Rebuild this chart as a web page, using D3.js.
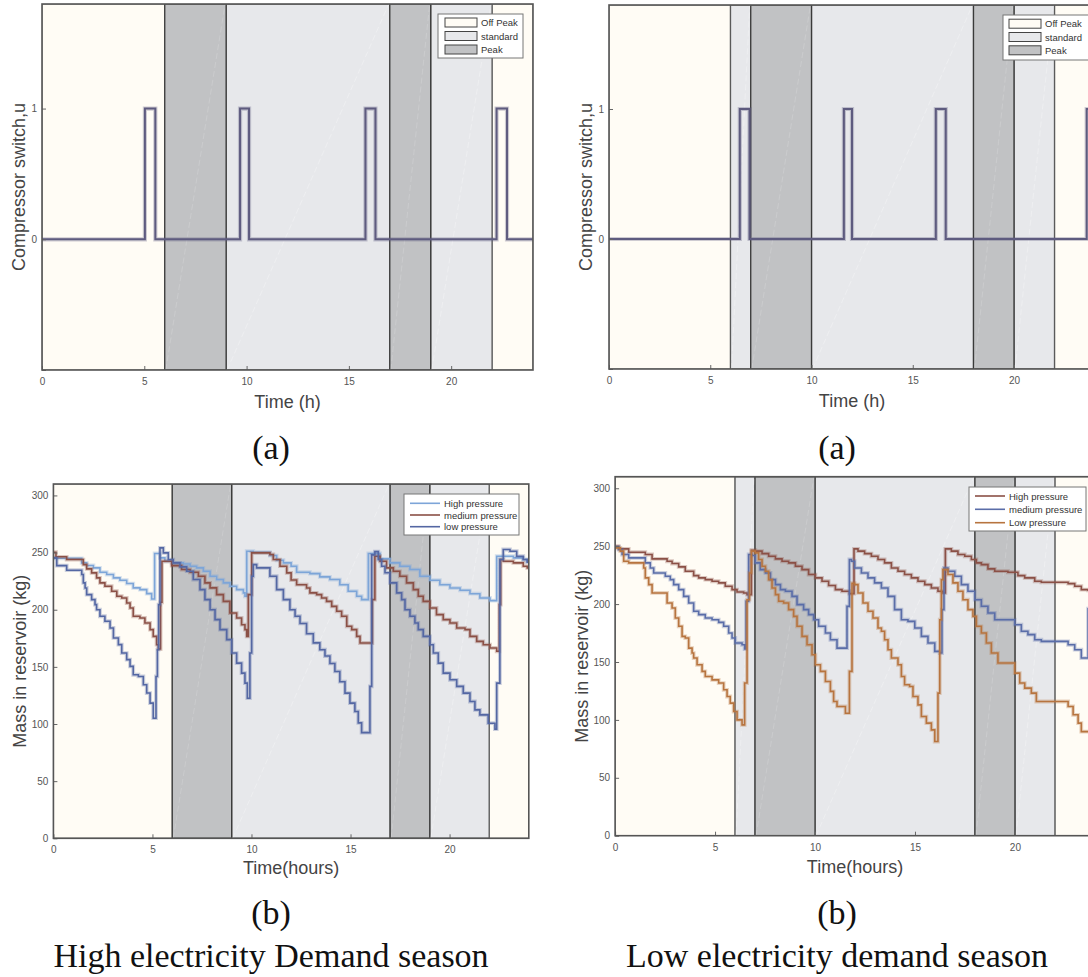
<!DOCTYPE html>
<html><head><meta charset="utf-8">
<script src="https://cdn.jsdelivr.net/npm/d3@7/dist/d3.min.js"></script>
<style>html,body{margin:0;padding:0;background:#fff;overflow:hidden}svg{display:block}</style>
</head><body>
<script>
// ---------------- DATA ----------------
const hoursTicks = [0, 5, 10, 15, 20];
const switchTicks = [-1, 0, 1];
const switchTickLabels = ["", "0", "1"];
const massTicks = [0, 50, 100, 150, 200, 250, 300];
const tariffNames = ["Off Peak", "standard", "Peak"];

const highSeasonPeriods = [[0,6,"Off Peak"],[6,9,"Peak"],[9,17,"standard"],[17,19,"Peak"],[19,22,"standard"],[22,24,"Off Peak"]];
const lowSeasonPeriods  = [[0,6,"Off Peak"],[6,7,"standard"],[7,10,"Peak"],[10,18,"standard"],[18,20,"Peak"],[20,22,"standard"],[22,24,"Off Peak"]];

const highSeasonSwitch = [[0,0],[5.03,1],[5.54,0],[9.68,1],[10.12,0],[15.81,1],[16.30,0],[22.22,1],[22.73,0],[24,0]];
const lowSeasonSwitch  = [[0,0],[6.46,1],[6.94,0],[11.6,1],[12.0,0],[16.14,1],[16.63,0],[23.59,1],[24,1]];

const highSeasonNames = ["High pressure", "medium pressure", "low pressure"];
const lowSeasonNames  = ["High pressure", "medium pressure", "Low pressure"];

// High electricity demand season, mass in reservoir (kg)
const hsHigh = [[0,245],[1.43,241],[1.68,238.7],[2.02,236.6],[2.35,232.8],[2.69,230.8],[3.03,227.9],[3.36,225.8],[3.70,222.9],[4.03,219.1],[4.37,217.6],[4.71,214.1],[4.96,209.4],[5.11,249.2],[5.38,245.4],[5.63,242.4],[5.97,241],[6.56,240],[6.9,238.1],[7.23,236.6],[7.57,233.7],[7.91,229.3],[8.24,226.4],[8.58,223.5],[8.91,220.6],[9.25,217.6],[9.59,214.7],[9.67,211.8],[9.76,251.2],[10.09,250.3],[10.93,247.4],[11.27,243.3],[11.61,241],[12.0,238.1],[12.28,232.8],[12.95,231.6],[13.45,228.7],[13.96,226.4],[14.46,221.9],[14.88,216.2],[15.31,211.8],[15.56,208.8],[15.9,249.2],[16.49,244.5],[16.99,241],[17.49,238.1],[18.0,235.2],[18.5,229.3],[19.01,225.8],[19.51,221.9],[20.02,219],[20.53,217],[21.03,214],[21.53,210.3],[22.04,208],[22.38,246.8],[23.22,245.4],[23.72,243.9],[23.92,242.4],[24,242.4]];
const hsMed = [[0,250.3],[0.13,246.3],[0.67,243.9],[1.51,239.5],[1.68,235.7],[1.93,232.2],[2.18,227.9],[2.35,223.5],[2.6,220.6],[2.94,216.2],[3.2,211.8],[3.45,210.3],[3.7,205.9],[3.87,201.5],[4.03,194.3],[4.37,192.8],[4.62,188.4],[4.88,182.6],[5.04,176.7],[5.21,169.4],[5.3,165.6],[5.41,206.5],[5.48,242.4],[5.97,238.6],[6.47,235.2],[6.9,232.8],[7.32,229.3],[7.65,223.5],[7.91,219.1],[8.24,213.2],[8.58,207.3],[8.91,197.1],[9.25,192.8],[9.5,186.9],[9.67,182.6],[9.76,176.7],[9.84,213.2],[10.01,249.7],[10.93,248.3],[11.1,243.9],[11.44,238.1],[11.78,232.2],[12.0,226],[12.28,221.9],[12.78,219],[12.95,214.7],[13.29,213.2],[13.54,210.3],[13.79,207.3],[14.05,202.9],[14.3,198.6],[14.55,194.3],[14.81,185.5],[15.06,182.6],[15.31,176.7],[15.48,170.9],[16.1,208.8],[16.23,246.8],[16.49,242.4],[16.82,236.6],[17.16,233.6],[17.49,229.3],[17.83,223.5],[18.17,217.6],[18.42,211.8],[18.67,207.3],[19.01,201.5],[19.34,195.7],[19.68,191.3],[20.02,188.4],[20.36,184],[20.78,182.6],[21.03,176.7],[21.37,172.3],[21.7,169.4],[22.04,166.5],[22.38,163.6],[22.51,204.5],[22.58,243.9],[22.71,242.4],[23.22,241],[23.72,238.1],[23.92,236.6],[24,236.6]];
const hsLow = [[0,245.4],[0.17,238.6],[0.67,234.6],[1.43,230.8],[1.51,223.5],[1.6,219],[1.68,213.2],[1.93,208.8],[2.1,204.5],[2.18,200],[2.35,194.3],[2.6,189.9],[2.86,184],[3.03,175.3],[3.28,169.5],[3.45,162.1],[3.7,156.3],[3.87,150.4],[4.03,143.1],[4.29,141.6],[4.54,134.4],[4.71,127.1],[4.88,118.3],[5.04,105.1],[5.18,141.6],[5.25,165],[5.31,204.5],[5.38,254.1],[5.55,249.7],[5.8,243.9],[6.05,241],[6.39,237.5],[6.73,233.7],[7.06,226.4],[7.4,217.6],[7.65,208.8],[7.91,200],[8.16,191.3],[8.41,182.6],[8.75,173.8],[9.0,162.1],[9.25,153.3],[9.5,144.5],[9.67,135.8],[9.79,122.6],[9.92,162.1],[10.01,229.3],[10.09,239.5],[10.26,236.6],[10.93,229.3],[11.27,217.6],[11.61,208.8],[11.94,200],[12.2,194.3],[12.45,188],[12.78,179],[13.12,171],[13.45,165],[13.71,159.5],[13.96,153],[14.21,146],[14.46,137],[14.72,127],[14.97,118.3],[15.22,111],[15.39,101],[15.56,92.5],[15.98,132.9],[16.07,248],[16.23,250.8],[16.4,243.9],[16.57,238.1],[16.74,232.3],[16.99,223.5],[17.33,214.7],[17.58,208.8],[17.75,200],[18.0,194.3],[18.25,188.4],[18.42,182.6],[18.67,176.7],[19.01,169.4],[19.18,162.1],[19.43,153.3],[19.68,144.5],[20.02,138.7],[20.36,132.9],[20.69,127],[21.03,119.7],[21.28,112.4],[21.53,108],[21.95,100.7],[22.29,95.5],[22.38,135.8],[22.54,243.9],[22.71,252.7],[23.05,251.2],[23.39,246.8],[23.72,243.9],[23.92,241.6],[24,241.6]];

// Low electricity demand season, mass in reservoir (kg)
const lsHigh = [[0,250],[0.18,247.7],[0.68,244.8],[1.51,242.8],[1.85,239],[2.6,237],[2.85,235],[3.18,232.1],[3.51,228.4],[3.93,224.6],[4.18,222.6],[4.51,221.1],[4.85,219.7],[5.18,218.3],[5.51,215.4],[5.85,212.5],[6.1,210.5],[6.43,209.6],[6.6,208.2],[6.82,246.5],[7.01,245.7],[7.35,243.6],[7.68,241.3],[8.02,239],[8.35,237],[8.68,235.6],[9.02,232.7],[9.35,229.8],[9.68,225.5],[10.02,222.6],[10.35,219.7],[10.68,216],[11.02,212.5],[11.35,211.1],[11.72,209],[11.95,247.7],[12.15,245.7],[12.48,243.6],[12.82,241.3],[13.15,238.5],[13.48,235.6],[13.82,231.2],[14.15,228.4],[14.48,225.5],[14.82,222.6],[15.15,219.7],[15.49,216.8],[15.82,213.9],[16.15,211.1],[16.4,209.6],[16.52,247.7],[16.82,245.7],[17.15,242.8],[17.49,241.3],[17.82,238.5],[18.07,235.6],[18.32,234.1],[18.65,230.4],[18.99,228.4],[19.65,227.5],[20.15,224.6],[20.49,222.6],[20.99,219.7],[21.32,218.8],[22.66,217.7],[22.99,215.4],[23.32,212.5],[23.66,211.9],[24,211.9]];
const lsMed = [[0,249.4],[0.18,247.1],[0.35,242.8],[0.68,239.9],[1.51,235.6],[1.76,231.2],[1.93,226.9],[2.51,224],[2.76,221.1],[2.93,216.8],[3.18,212.5],[3.43,206.7],[3.68,201],[3.93,193.8],[4.18,190.9],[4.51,188],[4.85,186.5],[5.18,184.2],[5.43,180.8],[5.68,175],[5.85,170.7],[6.01,166.4],[6.35,164.9],[6.48,161.2],[6.55,202.4],[6.68,242.8],[6.85,241.9],[7.01,235.6],[7.26,229.8],[7.52,226.9],[7.77,221.1],[8.02,216.8],[8.27,212.5],[8.52,211.1],[8.85,206.7],[9.1,199.5],[9.43,195.2],[9.68,190.9],[9.93,186.5],[10.18,180.8],[10.52,175],[10.77,169.2],[11.1,162],[11.6,198],[11.72,238.5],[11.82,237],[11.98,231.2],[12.32,226.9],[12.65,222.6],[12.98,218.3],[13.32,213.9],[13.65,206.7],[13.98,195.2],[14.32,186.5],[14.65,185.1],[14.99,179.3],[15.32,172.1],[15.65,166.4],[15.99,159.2],[16.24,157.7],[16.35,195.2],[16.45,231.2],[16.65,228.4],[16.99,224],[17.32,216.8],[17.65,211.1],[17.99,203.8],[18.32,198.1],[18.65,192.3],[18.99,186.5],[19.99,182.2],[20.32,176.5],[20.65,173.6],[20.99,169.2],[21.32,167.8],[22.66,164.9],[22.99,160.6],[23.32,153.4],[23.66,196],[24,196]];
const lsLow = [[0,248.5],[0.26,245.7],[0.43,237],[0.68,235.6],[1.43,231.2],[1.51,222.6],[1.68,216.8],[1.85,209.6],[2.6,201],[2.85,196.6],[3.01,188],[3.18,180.8],[3.35,172.1],[3.51,170.7],[3.68,162],[3.85,157.7],[3.93,153.4],[4.1,147.6],[4.35,141.9],[4.51,137.5],[4.85,134.6],[5.18,131.8],[5.43,126],[5.6,120.2],[5.76,114.5],[5.93,107.2],[6.1,100],[6.35,95.7],[6.48,131.8],[6.6,203.8],[6.72,226.9],[6.82,245.7],[7.01,244.2],[7.18,238.5],[7.35,232.7],[7.52,228.4],[7.68,221.1],[7.85,213.9],[8.02,208.2],[8.18,202.4],[8.43,201],[8.68,195.2],[8.93,189.4],[9.1,180.8],[9.35,172.1],[9.6,164.9],[9.85,156.3],[10.02,147.6],[10.27,141.9],[10.52,133.2],[10.77,124.6],[10.93,115.9],[11.1,111.6],[11.52,105.8],[11.72,141.9],[11.85,218],[11.98,216.8],[12.15,209.6],[12.4,201],[12.65,193.8],[12.9,188],[13.15,179.3],[13.32,176.5],[13.48,169.2],[13.65,160.6],[13.82,153.4],[14.15,147.6],[14.32,137.5],[14.48,130.3],[14.73,128.9],[14.9,120.2],[15.15,113],[15.32,102.9],[15.57,97.2],[15.82,91.4],[15.99,81.3],[16.15,123.1],[16.24,186.5],[16.32,221.1],[16.4,229.8],[16.65,225.5],[16.9,218.3],[17.15,211.1],[17.4,203.8],[17.65,195.2],[17.9,189.4],[18.07,180.8],[18.32,175],[18.57,166.4],[18.82,157.7],[19.15,149.1],[19.99,140.4],[20.24,131.8],[20.49,127.4],[20.82,123.1],[21.07,115.9],[22.66,111.6],[22.91,104.4],[23.16,97.2],[23.32,89.9],[24,89.9]];

// ---------------- STYLE ----------------
const bandFill   = {"Off Peak":"#fffcf5","standard":"#e7e8eb","Peak":"#c1c2c4"};
const bandStroke = {"Off Peak":"#8a8a8a","standard":"#5a5a5a","Peak":"#3a3a3a"};
const bandOrder  = {"Off Peak":0,"standard":1,"Peak":2};
const SANS = "'Liberation Sans', Arial, sans-serif";
const SERIF = "'Liberation Serif', 'Times New Roman', serif";

const svg = d3.select("body").append("svg").attr("width",1088).attr("height",977);
let clipId = 0;

function drawPanel(o){
  const x = d3.scaleLinear().domain([0,24]).range([o.x0,o.x1]);
  const y = d3.scaleLinear().domain(o.yDomain).range([o.y1,o.y0]);
  const g = svg.append("g");
  const cid = "clip"+(clipId++);
  g.append("clipPath").attr("id",cid).append("rect")
    .attr("x",o.x0).attr("y",o.y0).attr("width",o.x1-o.x0).attr("height",o.y1-o.y0);
  const plot = g.append("g").attr("clip-path",`url(#${cid})`);
  const per = o.periods.slice().sort((a,b)=>bandOrder[a[2]]-bandOrder[b[2]]);
  plot.selectAll("rect.band").data(per).join("rect").attr("class","band")
    .attr("x",d=>x(d[0])).attr("y",o.y0).attr("width",d=>x(d[1])-x(d[0])).attr("height",o.y1-o.y0)
    .attr("fill",d=>bandFill[d[2]]).attr("stroke",d=>bandStroke[d[2]]).attr("stroke-width",1.3);
  plot.selectAll("line.diag").data(o.periods.filter(d=>d[2]!=="Off Peak")).join("line")
    .attr("x1",d=>x(d[0])+1).attr("y1",o.y1).attr("x2",d=>x(d[1])-1).attr("y2",o.y0)
    .attr("stroke","#ffffff").attr("stroke-opacity",d=>d[2]==="Peak"?0.22:0.4).attr("stroke-width",0.7)
    .attr("stroke-dasharray","6,3");
  const line = d3.line().x(d=>x(d[0])).y(d=>y(d[1])).curve(d3.curveStepAfter);
  o.series.forEach(s=>{
    plot.append("path").attr("d",line(s.data)).attr("fill","none")
      .attr("stroke",s.color).attr("stroke-opacity",0.3).attr("stroke-width",s.w+2.2);
    plot.append("path").attr("d",line(s.data)).attr("fill","none")
      .attr("stroke",s.color).attr("stroke-width",s.w);
  });
  const ax = g.append("g").attr("transform",`translate(0,${o.y1})`)
    .call(d3.axisBottom(x).tickValues(hoursTicks).tickSize(-4).tickPadding(8));
  const ay = g.append("g").attr("transform",`translate(${o.x0},0)`)
    .call(d3.axisLeft(y).tickValues(o.yTicks).tickSize(-4).tickPadding(5)
      .tickFormat((d,i)=>o.yLabels? o.yLabels[i] : d));
  [ax,ay].forEach(a=>{
    a.select(".domain").remove();
    a.selectAll(".tick line").attr("stroke","#666");
    a.selectAll(".tick text").attr("fill","#555").style("font-family",SANS).style("font-size","10px");
  });
  g.append("rect").attr("x",o.x0).attr("y",o.y0).attr("width",o.x1-o.x0).attr("height",o.y1-o.y0)
    .attr("fill","none").attr("stroke","#555").attr("stroke-width",1.6);
  g.append("text").attr("x",(o.x0+o.x1)/2).attr("y",o.xTitleY).attr("text-anchor","middle")
    .attr("dominant-baseline","central").attr("fill","#444").style("font-family",SANS).style("font-size","18px").text(o.xTitle);
  g.append("text").attr("transform",`translate(${o.yTitleX},${(o.y0+o.y1)/2}) rotate(-90)`).attr("text-anchor","middle")
    .attr("dominant-baseline","central").attr("fill","#444").style("font-family",SANS).style("font-size","18px").text(o.yTitle);
  const L = o.legend;
  const lg = g.append("g");
  lg.append("rect").attr("x",L.x).attr("y",L.y).attr("width",L.w).attr("height",L.h)
    .attr("fill","#fff").attr("stroke","#777").attr("stroke-width",1);
  L.items.forEach((it,i)=>{
    const cy = L.rows[i];
    if(it.band){
      lg.append("rect").attr("x",L.sx).attr("y",cy-4.5).attr("width",L.sw).attr("height",9)
        .attr("fill",bandFill[it.band]).attr("stroke","#444").attr("stroke-width",1);
    } else {
      lg.append("line").attr("x1",L.sx).attr("x2",L.sx+L.sw).attr("y1",cy).attr("y2",cy)
        .attr("stroke",it.color).attr("stroke-width",1.6);
    }
    lg.append("text").attr("x",L.tx).attr("y",cy).attr("dominant-baseline","central")
      .attr("fill","#333").style("font-family",SANS).style("font-size","9.5px").text(it.name);
  });
}

const swColor = "#5e5b7f";
drawPanel({x0:42,x1:533,y0:4,y1:370,yDomain:[-1,1.8],yTicks:switchTicks,yLabels:switchTickLabels,
  periods:highSeasonPeriods, series:[{data:highSeasonSwitch,color:swColor,w:2}],
  xTitle:"Time (h)",xTitleY:402,yTitle:"Compressor switch,u",yTitleX:19,
  legend:{x:438,y:14,w:85,h:44,sx:445,sw:32,tx:481,rows:[22.5,36,49.5],items:tariffNames.map(n=>({band:n,name:n}))}});

drawPanel({x0:609,x1:1095,y0:5,y1:369,yDomain:[-1,1.8],yTicks:switchTicks,yLabels:switchTickLabels,
  periods:lowSeasonPeriods, series:[{data:lowSeasonSwitch,color:swColor,w:2}],
  xTitle:"Time (h)",xTitleY:401,yTitle:"Compressor switch,u",yTitleX:586,
  legend:{x:1003,y:15,w:90,h:45,sx:1009,sw:32,tx:1045,rows:[23.7,37,50.3],items:tariffNames.map(n=>({band:n,name:n}))}});

const cLight="#7da5d8", cBrown="#8b5046", cNavy="#5467a3", cBlue2="#5a6da8", cOrange="#b7743f";
drawPanel({x0:53.4,x1:528.8,y0:484,y1:838.3,yDomain:[0,310],yTicks:massTicks,
  periods:highSeasonPeriods,
  series:[{data:hsHigh,color:cLight,w:1.6},{data:hsMed,color:cBrown,w:1.6},{data:hsLow,color:cNavy,w:1.6}],
  xTitle:"Time(hours)",xTitleY:868,yTitle:"Mass in reservoir (kg)",yTitleX:20,
  legend:{x:404,y:494,w:115,h:41,sx:410,sw:30,tx:444,rows:[503.3,515,526.7],
    items:[{color:cLight,name:highSeasonNames[0]},{color:cBrown,name:highSeasonNames[1]},{color:cNavy,name:highSeasonNames[2]}]}});

drawPanel({x0:615.1,x1:1094.9,y0:476.7,y1:835.7,yDomain:[0,310],yTicks:massTicks,
  periods:lowSeasonPeriods,
  series:[{data:lsHigh,color:cBrown,w:1.6},{data:lsMed,color:cBlue2,w:1.6},{data:lsLow,color:cOrange,w:1.6}],
  xTitle:"Time(hours)",xTitleY:867,yTitle:"Mass in reservoir (kg)",yTitleX:582,
  legend:{x:969,y:487,w:117,h:44,sx:975,sw:30,tx:1009,rows:[496,509.3,522.7],
    items:[{color:cBrown,name:lowSeasonNames[0]},{color:cBlue2,name:lowSeasonNames[1]},{color:cOrange,name:lowSeasonNames[2]}]}});

const caps = [["(a)",271,447],["(a)",837,447],["(b)",271,912],["(b)",837,912],
  ["High electricity Demand season",271,955],["Low electricity demand season",837,955]];
svg.selectAll("text.cap").data(caps).join("text").attr("class","cap")
  .attr("x",d=>d[1]).attr("y",d=>d[2]).attr("text-anchor","middle").attr("dominant-baseline","central")
  .attr("fill","#111").style("font-family",SERIF).style("font-size","34px").text(d=>d[0]);
</script>
</body></html>
